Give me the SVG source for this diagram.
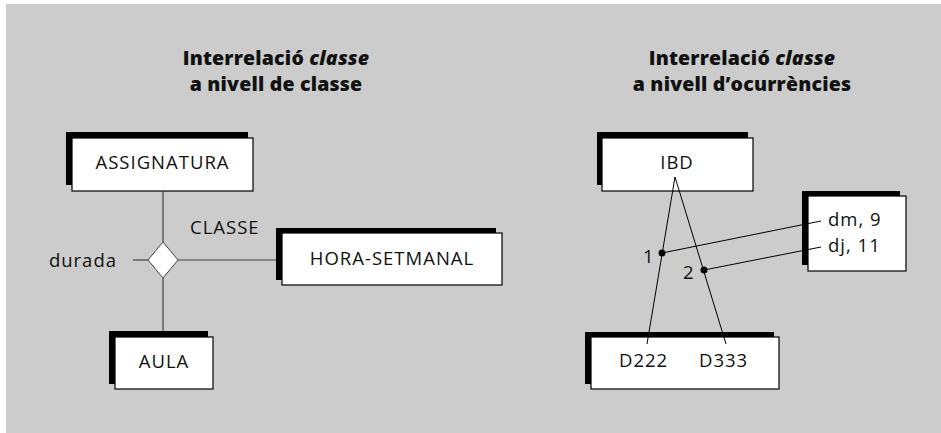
<svg xmlns="http://www.w3.org/2000/svg" width="941" height="433" viewBox="0 0 941 433">
<style>
.bg{fill:#cccccc}
.sh{fill:#000}
.bx{fill:#fff;stroke:#000;stroke-width:1.2}
.lbl{font-family:"Open Sans","Liberation Sans",Arial,sans-serif;font-size:18.5px;letter-spacing:1px;fill:#111}
.ttl{font-family:"Open Sans","Liberation Sans",Arial,sans-serif;font-size:19.5px;letter-spacing:0.2px;font-weight:800;fill:#111;text-anchor:middle}
.ln{stroke:#444;stroke-width:1.2;fill:none}
.ln2{stroke:#000;stroke-width:1;fill:none}
</style>
<rect class="bg" x="6" y="4" width="935" height="429"/>
<g id="title-left">
<text class="ttl" x="276" y="65">Interrelació <tspan font-style="italic">classe</tspan></text>
<text class="ttl" x="276" y="91">a nivell de classe</text>
</g>
<g id="title-right">
<text class="ttl" x="742" y="65">Interrelació <tspan font-style="italic">classe</tspan></text>
<text class="ttl" x="742" y="91">a nivell d’ocurrències</text>
</g>
<g id="assignatura">
<rect class="sh" x="66" y="132" width="182" height="53"/>
<rect class="bx" x="72" y="138" width="181" height="53"/>
<text class="lbl" x="162.5" y="169" text-anchor="middle">ASSIGNATURA</text>
</g>
<g id="classe">
<polygon points="163,242 178,260 163,278 148,260" fill="#fff" stroke="#444" stroke-width="1"/>
<text class="lbl" x="190" y="234">CLASSE</text>
<text class="lbl" x="117" y="267" text-anchor="end">durada</text>
</g>
<g id="hora-setmanal">
<rect class="sh" x="276" y="228" width="220" height="52"/>
<rect class="bx" x="282" y="233" width="220" height="52"/>
<text class="lbl" x="392" y="265" text-anchor="middle">HORA-SETMANAL</text>
</g>
<g id="aula">
<rect class="sh" x="109" y="331" width="99" height="53"/>
<rect class="bx" x="115" y="337" width="98" height="52"/>
<text class="lbl" x="164" y="368" text-anchor="middle">AULA</text>
</g>
<g id="ibd">
<rect class="sh" x="597" y="132" width="151" height="53"/>
<rect class="bx" x="602" y="138" width="151" height="53"/>
<text class="lbl" x="677" y="169" text-anchor="middle">IBD</text>
</g>
<g id="dm-dj">
<rect class="sh" x="802" y="191" width="98" height="74"/>
<rect class="bx" x="808" y="196" width="98" height="75"/>
<text class="lbl" x="828" y="226">dm, 9</text>
<text class="lbl" x="828" y="252">dj, 11</text>
</g>
<g id="d222-d333">
<rect class="sh" x="585" y="332" width="189" height="52"/>
<rect class="bx" x="591" y="337" width="188" height="52"/>
<text class="lbl" x="619" y="367">D222</text>
<text class="lbl" x="699" y="367">D333</text>
</g>
<g id="connectors">
<line class="ln" x1="163" y1="191" x2="163" y2="242"/>
<line class="ln" x1="163" y1="278" x2="163" y2="331"/>
<line class="ln" x1="133" y1="260" x2="148" y2="260"/>
<line class="ln" x1="178" y1="260" x2="276" y2="260"/>
<line class="ln2" x1="675" y1="177" x2="647" y2="344"/>
<line class="ln2" x1="675" y1="177" x2="726" y2="344"/>
<line class="ln2" x1="662" y1="253" x2="821" y2="221"/>
<line class="ln2" x1="704" y1="270" x2="821" y2="247"/>
<circle cx="662" cy="253" r="3.5" fill="#000"/>
<circle cx="704" cy="270" r="3.5" fill="#000"/>
</g>
<g id="labels">
<text class="lbl" x="643" y="263">1</text>
<text class="lbl" x="683" y="279">2</text>
</g>
</svg>
